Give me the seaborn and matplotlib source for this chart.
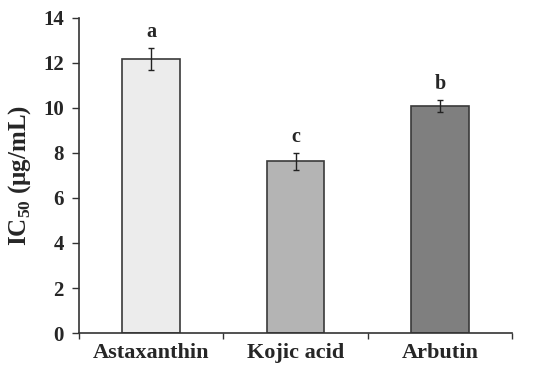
import matplotlib
matplotlib.use('Agg')
import matplotlib.pyplot as plt
import numpy as np
import pandas as pd
import seaborn as sns

# data
compounds = ['Astaxanthin', 'Kojic acid', 'Arbutin']
ic50 = [12.18, 7.64, 10.09]
sd = [0.5, 0.38, 0.27]
letters = ['a', 'c', 'b']

df = pd.DataFrame({'compound': compounds, 'ic50': ic50})

sns.set_style('white')
plt.rcParams['font.family'] = ['Liberation Serif', 'DejaVu Serif']
plt.rcParams['font.weight'] = 'bold'
plt.rcParams['mathtext.fontset'] = 'custom'
plt.rcParams['mathtext.rm'] = 'Liberation Serif'
plt.rcParams['mathtext.bf'] = 'Liberation Serif:bold'

fig = plt.figure(figsize=(5.5, 3.74), dpi=100)
ax = fig.add_axes([0.1436, 0.1096, 0.7874, 0.8424])

colors = ['#ececec', '#b4b4b4', '#7f7f7f']
sns.barplot(data=df, x='compound', y='ic50', hue='compound', palette=colors,
            width=0.4, edgecolor='#3a3a3a', linewidth=1.2, legend=False, ax=ax)

ax.errorbar(x=np.arange(len(compounds)), y=ic50, yerr=sd, fmt='none',
            ecolor='#222222', elinewidth=1, capsize=2.5, capthick=1)

for i, (v, e, l) in enumerate(zip(ic50, sd, letters)):
    ax.text(i, v + e + 0.25, l, ha='center', va='bottom', fontsize=14.5,
            fontweight='bold')

ax.set_ylim(0, 14)
ax.set_xlim(-0.5, 2.5)
ax.set_yticks(np.arange(0, 15, 2))
ax.set_xticks([-0.5, 0.5, 1.5, 2.5], minor=True)
ax.tick_params(axis='x', which='major', length=0, labelsize=16, pad=7)
ax.tick_params(axis='x', which='minor', length=4, width=1, direction='out',
               bottom=True, color='#333333')
ax.tick_params(axis='y', length=5, width=1, direction='out', left=True,
               labelsize=15, color='#333333', pad=6)
ax.set_xlabel('')
ax.set_ylabel(r'IC$_{\mathrm{50}}$ (μg/mL)', fontsize=18, fontweight='bold',
              labelpad=7)

for s in ['top', 'right']:
    ax.spines[s].set_visible(False)
for s in ['left', 'bottom']:
    ax.spines[s].set_color('#333333')
    ax.spines[s].set_linewidth(1.2)

fig.savefig('out.png', dpi=100)
